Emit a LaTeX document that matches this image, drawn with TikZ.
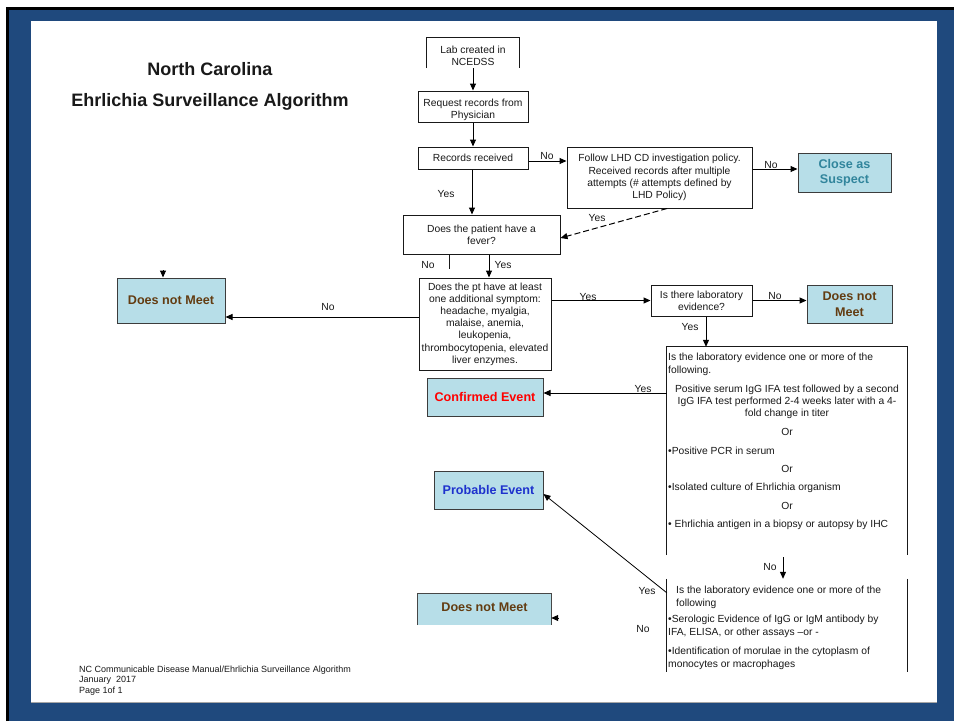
\documentclass[tikz,border=0pt]{standalone}
\usepackage{fontspec}
\setmainfont{Liberation Sans}
\usetikzlibrary{arrows.meta,calc}
\definecolor{framec}{RGB}{31,73,125}
\definecolor{tealfill}{RGB}{183,222,232}
\definecolor{brownt}{RGB}{99,60,17}
\definecolor{tealt}{RGB}{49,133,156}
\definecolor{bluet}{RGB}{30,50,205}
\definecolor{boxline}{RGB}{25,25,25}
\tikzset{
  every node/.style={font=\fontsize{10.3}{12.2}\selectfont, text=black!90},
  box/.style={draw=boxline, line width=1pt, fill=white, align=center, inner sep=0pt},
  tbox/.style={draw=boxline!85, line width=1pt, fill=tealfill, align=center, inner sep=0pt, font=\fontsize{12.6}{15.5}\selectfont\bfseries},
  openbox/.style={align=center, inner sep=0pt},
  conn/.style={line width=1pt, draw=black, -{Triangle[length=7pt,width=6pt]}},
  plainline/.style={line width=1pt, draw=boxline},
  lbl/.style={font=\fontsize{10.3}{12}\selectfont, inner sep=0pt},
  ltxt/.style={anchor=west, align=left, inner sep=0pt, font=\fontsize{10.3}{13}\selectfont},
  ctxt/.style={align=center, inner sep=0pt, font=\fontsize{10.3}{12}\selectfont},
  titletxt/.style={font=\fontsize{18}{21}\selectfont\bfseries, inner sep=0pt},
}
\begin{document}
\begin{tikzpicture}[x=1pt,y=-1pt]
\useasboundingbox (0,0) rectangle (954,721);
% frame
\fill[white] (0,0) rectangle (954,721);
\fill[framec] (7,8) rectangle (954,721);
\draw[line width=3pt,black] (7.5,721) -- (7.5,8.5) -- (954,8.5);
\fill[white] (31,21) rectangle (937,702);
\draw[black!35, line width=0.8pt] (31,702) -- (937,702);

% title
\node[titletxt] (t1) at (210,69) {North Carolina};
\node[titletxt] (t2) at (210,102) {Ehrlichia Surveillance Algorithm};

% boxes
\node[openbox, minimum width=92pt, minimum height=30pt] (lab) at (473,53) {};
\node[ctxt] (labt) at (473,55.5) {Lab created in\\NCEDSS};
\draw[plainline] (lab.south west) -- (lab.north west) -- (lab.north east) -- (lab.south east);
\node[box, minimum width=110pt, minimum height=31pt] (req) at (473,106.5) {};
\node[ctxt] (reqt) at (473,109.5) {Request records from\\Physician};
\node[box, minimum width=110pt, minimum height=22pt] (rec) at (473,158) {Records received};
\node[box, minimum width=185pt, minimum height=61pt] (fol) at (659.5,177.5) {Follow LHD CD investigation policy.\\Received records after multiple\\attempts (\# attempts defined by\\LHD Policy)};
\node[tbox, text=tealt, minimum width=93pt, minimum height=39pt] (close) at (844.5,172.5) {Close as\\Suspect};
\node[box, minimum width=157pt, minimum height=39pt] (fev) at (481.5,234.5) {Does the patient have a\\fever?};
\node[box, minimum width=132pt, minimum height=92pt] (sym) at (485,324) {Does the pt have at least\\one additional symptom:\\headache, myalgia,\\malaise, anemia,\\leukopenia,\\thrombocytopenia, elevated\\liver enzymes.};
\node[tbox, text=brownt, minimum width=108pt, minimum height=45pt] (dnm1) at (171,300.5) {Does not Meet};
\node[box, minimum width=101pt, minimum height=31pt] (labq) at (701.5,300.5) {Is there laboratory\\evidence?};
\node[tbox, text=brownt, minimum width=85pt, minimum height=38pt] (dnm2) at (849.5,304) {Does not\\Meet};
\node[openbox, minimum width=240pt, minimum height=208pt] (ev1) at (787,451) {};
\draw[plainline] (ev1.south west) -- (ev1.north west) -- (ev1.north east) -- (ev1.south east);
\node[tbox, text=red, minimum width=116pt, minimum height=38pt] (conf) at (485,397) {Confirmed Event};
\node[tbox, text=bluet, minimum width=109pt, minimum height=38pt] (prob) at (488.5,490) {Probable Event};
\node[openbox, minimum width=240pt, minimum height=93pt] (ev2) at (787,625.5) {};
\draw[plainline] (ev2.north west) -- (ev2.south west);
\draw[plainline] (ev2.north east) -- (ev2.south east);
\node[openbox, fill=tealfill, minimum width=133pt, minimum height=31pt] (dnm3) at (484.5,609.5) {};
\draw[plainline, draw=boxline!80] (dnm3.south west) -- (dnm3.north west) -- (dnm3.north east) -- (dnm3.south east);
\node[inner sep=0pt, font=\fontsize{12.6}{15}\selectfont\bfseries, text=brownt] (dnm3t) at (484.5,607) {Does not Meet};

% text inside the evidence boxes
\node[ltxt] (e1a) at (668,364.5) {Is the laboratory evidence one or more of the\\following.};
\node[ctxt] (e1b) at (787,402) {Positive serum IgG IFA test followed by a second\\IgG IFA test performed 2-4 weeks later with a 4-\\fold change in titer};
\node[ctxt] (or1) at (787,432) {Or};
\node[ltxt] (e1c) at (668,451) {•Positive PCR in serum};
\node[ctxt] (or2) at (787,469) {Or};
\node[ltxt] (e1d) at (668,488) {•Isolated culture of Ehrlichia organism};
\node[ctxt] (or3) at (787,506) {Or};
\node[ltxt] (e1e) at (668,525) {• Ehrlichia antigen in a biopsy or autopsy by IHC};
\node[ltxt] (e2a) at (676,597.5) {Is the laboratory evidence one or more of the\\following};
\node[ltxt] (e2b) at (668,626.5) {•Serologic Evidence of IgG or IgM antibody by\\IFA, ELISA, or other assays –or -};
\node[ltxt] (e2c) at (668,658.5) {•Identification of morulae in the cytoplasm of\\monocytes or macrophages};

% connectors
\draw[conn] (lab.south) -- (req.north);
\draw[conn] (req.south) -- (rec.north);
\draw[conn] ([yshift=-3pt]rec.east) -- ([yshift=-3pt]rec.east -| fol.west);
\draw[conn] ([yshift=3.5pt]close.west -| fol.east) -- ([yshift=3.5pt]close.west);
\draw[conn, dash pattern=on 6pt off 3pt] ([xshift=7.5pt]fol.south) -- ([yshift=-3.5pt]fev.east);
\draw[conn] ([xshift=-1pt]rec.south) -- ([xshift=-1pt]rec.south |- fev.north);
\coordinate (nostub) at (449,269);
\draw[plainline] (nostub |- fev.south) -- (nostub);
\draw[conn] ([xshift=4pt]sym.north |- fev.south) -- ([xshift=4pt]sym.north);
\coordinate (dnmstub) at (163,270);
\draw[conn] (dnmstub) -- (dnmstub |- dnm1.north);
\draw[conn] ([yshift=7pt]sym.west) -- ([yshift=7pt]sym.west -| dnm1.east);
\draw[conn] (sym.east |- labq.west) -- (labq.west);
\draw[conn] (labq.east) -- (labq.east -| dnm2.west);
\draw[conn] ([xshift=4.5pt]labq.south) -- ([xshift=4.5pt]labq.south |- ev1.north);
\coordinate (yconf) at (0,393);
\draw[conn] (ev1.west |- yconf) -- (conf.east |- yconf);
\draw[line width=0.8pt, draw=black, -{Triangle[length=7pt,width=6pt]}] ([yshift=-14pt]ev2.north west) -- ([yshift=-4pt]prob.east);
\draw[conn] ([shift={(-4pt,-2pt)}]ev1.south) -- ([xshift=-4pt]ev2.north);
\coordinate (dnm3stub) at (558,618);
\draw[conn] (dnm3stub) -- (dnm3.east |- dnm3stub);

% labels
\node[lbl] (n1) at (547,156) {No};
\node[lbl] (n2) at (771,165) {No};
\node[lbl] (y1) at (597,218) {Yes};
\node[lbl] (y2) at (446,194) {Yes};
\node[lbl] (n3) at (428,265) {No};
\node[lbl] (y3) at (503,265) {Yes};
\node[lbl] (n4) at (328,307) {No};
\node[lbl] (y4) at (588,297) {Yes};
\node[lbl] (n5) at (775,296) {No};
\node[lbl] (y5) at (690,327) {Yes};
\node[lbl] (y6) at (643,389) {Yes};
\node[lbl] (y7) at (647,591) {Yes};
\node[lbl] (n6) at (770,567) {No};
\node[lbl] (n7) at (643,629) {No};

% footer
\node[anchor=west, align=left, inner sep=0pt, font=\fontsize{9}{10.5}\selectfont] (foot) at (79,680.5) {NC Communicable Disease Manual/Ehrlichia Surveillance Algorithm\\January\ \ 2017\\Page 1of 1};
\end{tikzpicture}
\end{document}
